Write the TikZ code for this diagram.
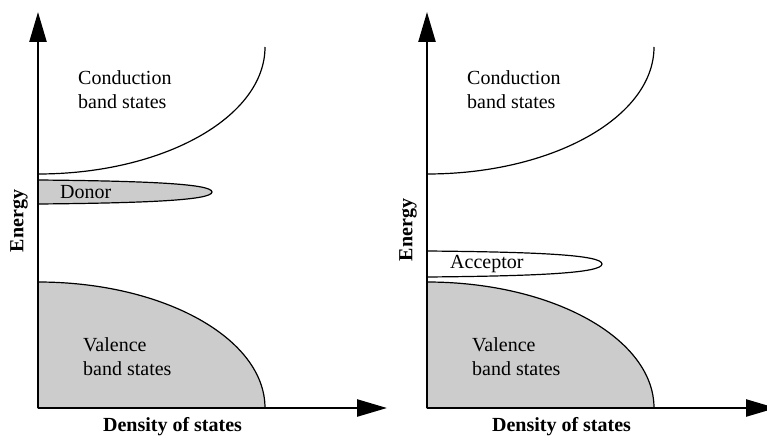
\documentclass[tikz,border=0pt]{standalone}
\usepackage{fontspec}
\setmainfont{Liberation Serif}
\usetikzlibrary{arrows.meta}

\begin{document}
\begin{tikzpicture}[
  x=1pt, y=1pt,
  axis/.style={line width=2.4pt, -{Triangle[length=30pt,width=17pt]}},
  band/.style={line width=1.2pt, line join=round},
  bandfill/.style={band, fill=gray!40},
  lbl/.style={font=\fontsize{20}{24}\selectfont, align=left, inner sep=0pt, anchor=west},
  axlbl/.style={font=\fontsize{20}{24}\selectfont\bfseries, inner sep=0pt},
]
  \useasboundingbox (0,0) rectangle (767,437);
  \clip (0,0) rectangle (767,437);

  % left panel: donor level
  \begin{scope}
    \coordinate (Lo) at (38,29);
    \coordinate (Ly) at (38,425);
    \coordinate (Lx) at (387,29);
    % valence band
    \draw[bandfill] (Lo) -- (38,155)
      arc[start angle=90, end angle=0, x radius=227, y radius=126] -- cycle;
    % conduction band
    \draw[band] (38,263)
      arc[start angle=-90, end angle=0, x radius=227, y radius=127];
    % donor states
    \draw[bandfill] (38,257) .. controls (150,256) and (212,253) .. (212,245)
      .. controls (212,237) and (150,234) .. (38,233) -- cycle;
    \node[lbl] (Ldonor) at (60,245) {Donor};
    \node[lbl] (Lcond) at (78,347) {Conduction\\band states};
    \node[lbl] (Lval) at (83,80.5) {Valence\\band states};
    % axes
    \draw[axis] (Lo) -- (Ly);
    \draw[axis] (Lo) -- (Lx);
    \node[axlbl, rotate=90] (Lenergy) at (19,216) {Energy};
    \node[axlbl] (Ldos) at (172.5,10) {Density of states};
  \end{scope}

  % right panel: acceptor level
  \begin{scope}[xshift=389pt]
    \coordinate (Ro) at (38,29);
    \coordinate (Ry) at (38,425);
    \coordinate (Rx) at (387,29);
    % valence band
    \draw[bandfill] (Ro) -- (38,155)
      arc[start angle=90, end angle=0, x radius=227, y radius=126] -- cycle;
    % conduction band
    \draw[band] (38,263)
      arc[start angle=-90, end angle=0, x radius=227, y radius=127];
    % acceptor states
    \draw[band, fill=white] (38,186) .. controls (150,185) and (213,182) .. (213,173)
      .. controls (213,164) and (150,161) .. (38,160) -- cycle;
    \node[lbl] (Racc) at (61,173) {Acceptor};
    \node[lbl] (Rcond) at (78,347) {Conduction\\band states};
    \node[lbl] (Rval) at (83,80.5) {Valence\\band states};
    % axes
    \draw[axis] (Ro) -- (Ry);
    \draw[axis] (Ro) -- (Rx);
    \node[axlbl, rotate=90] (Renergy) at (19,207) {Energy};
    \node[axlbl] (Rdos) at (172.5,10) {Density of states};
  \end{scope}
\end{tikzpicture}
\end{document}
